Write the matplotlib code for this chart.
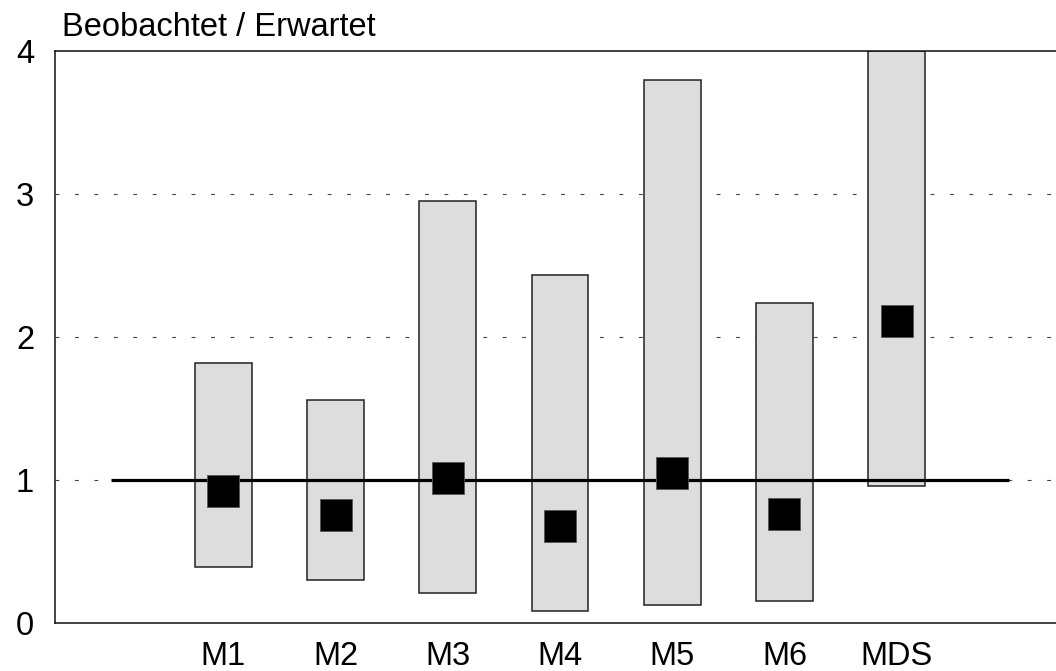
import matplotlib
matplotlib.use("Agg")
import matplotlib.pyplot as plt

categories = ["M1", "M2", "M3", "M4", "M5", "M6", "MDS"]
lower = [0.39, 0.30, 0.21, 0.085, 0.122, 0.152, 0.957]
upper = [1.82, 1.556, 2.95, 2.43, 3.80, 2.24, 4.0]
estimate = [0.918, 0.752, 1.01, 0.675, 1.05, 0.763, 2.11]
yticks = [0, 1, 2, 3, 4]

plt.rcParams['font.family'] = ['Liberation Sans', 'DejaVu Sans']

fig = plt.figure(figsize=(10.56, 6.71), dpi=100)
ax = fig.add_axes([55/1056, 1 - 622.7/671, 1 - 55/1056, (622.7 - 51)/671])

x = list(range(1, len(categories) + 1))
heights = [u - l for u, l in zip(upper, lower)]
ax.bar(x, heights, bottom=lower, width=0.507, color="#dddddd",
       edgecolor="#222222", linewidth=1.1, zorder=2)
ax.plot([0, 8], [1, 1], color="black", linewidth=2.3, zorder=3, solid_capstyle="butt")
ax.plot(x, estimate, linestyle="none", marker="s", markersize=23.5,
        markerfacecolor="black", markeredgecolor="#555555", markeredgewidth=0.6, zorder=4)

for yv in [1, 2, 3]:
    ax.axhline(yv, color="#444444", linewidth=0.8, linestyle=(0, (3.5, 14)), zorder=1)

ax.set_xlim(-0.5, 8.42)
ax.set_ylim(0, 4)
ax.set_yticks(yticks)
ax.set_yticklabels([str(v) for v in yticks])
ax.set_xticks(x)
ax.set_xticklabels(categories)
ax.tick_params(axis="both", length=0, labelsize=23.5)
ax.tick_params(axis="y", pad=15)
ax.tick_params(axis="x", pad=13)
ax.spines["right"].set_visible(False)
for s in ["left", "bottom", "top"]:
    ax.spines[s].set_linewidth(1.1)
    ax.spines[s].set_color("#111111")
    ax.spines[s].set_zorder(5)

fig.text(62/1056, 1 - 36/671, "Beobachtet / Erwartet", fontsize=23.5, ha="left", va="baseline")

fig.savefig("out.png", dpi=100)
